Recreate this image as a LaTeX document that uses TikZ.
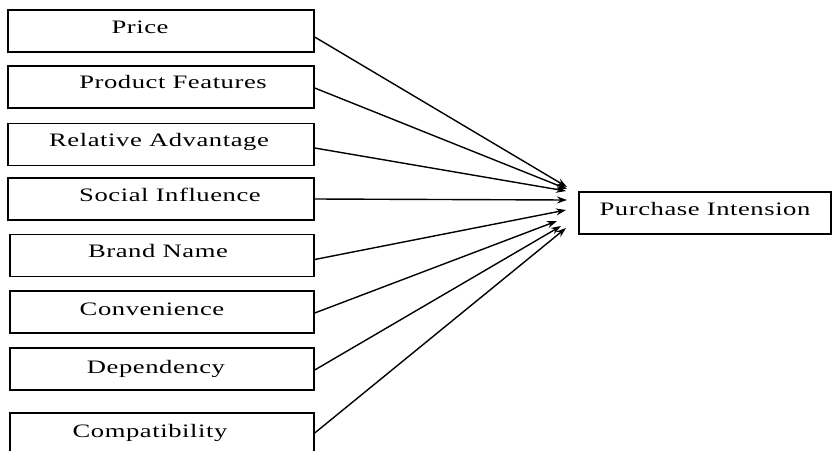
\documentclass[tikz,border=0pt]{standalone}
\usepackage{fontspec}
\setmainfont{Liberation Serif}[FakeStretch=1.4, LetterSpace=3]
\usetikzlibrary{arrows.meta}
\begin{document}
\begin{tikzpicture}[x=1pt,y=-1pt,
  box/.style={draw, line width=1.4pt, minimum height=42pt, inner sep=0pt},
  lbl/.style={anchor=base, font=\fontsize{19}{22}\selectfont, inner sep=0pt},
  arr/.style={line width=1.4pt, -{Stealth[length=10pt,width=7pt]}}]
\clip (0,0) rectangle (832,450);
\fill[white] (0,0) rectangle (832,450);
% source boxes
\node[box, minimum width=306pt] (b1) at (161,31) {};
\node[box, minimum width=306pt] (b2) at (161,87) {};
\node[box, minimum width=306pt] (b3) at (161,144.5) {};
\node[box, minimum width=306pt] (b4) at (161,199) {};
\node[box, minimum width=304pt] (b5) at (162,255.5) {};
\node[box, minimum width=304pt] (b6) at (162,312) {};
\node[box, minimum width=304pt] (b7) at (162,369) {};
\node[box, minimum width=304pt] (b8) at (162,434) {};
% target box
\node[box, minimum width=252pt] (pi) at (705,213) {};
% labels
\node[lbl] at (140,33) {Price};
\node[lbl] at (173,88) {Product Features};
\node[lbl] at (159,146) {Relative Advantage};
\node[lbl] at (170,201) {Social Influence};
\node[lbl] at (158,257) {Brand Name};
\node[lbl] at (152,315) {Convenience};
\node[lbl] at (156,373) {Dependency};
\node[lbl] at (150,437) {Compatibility};
\node[lbl] at (705,215) {Purchase Intension};
% arrow tips
\coordinate (t1) at (567,187);
\coordinate (t2) at (567,189);
\coordinate (t3) at (566,191);
\coordinate (t4) at (567,200);
\coordinate (t5) at (566,210);
\coordinate (t6) at (557,221);
\coordinate (t7) at (561,226);
\coordinate (t8) at (566,228);
% connectors
\draw[arr] ([yshift=-6pt]b1.east) -- (t1);
\draw[arr] ([yshift=-1pt]b2.east) -- (t2);
\draw[arr] ([yshift=-3.5pt]b3.east) -- (t3);
\draw[arr] (b4.east) -- (t4);
\draw[arr] ([yshift=-4pt]b5.east) -- (t5);
\draw[arr] ([yshift=-1pt]b6.east) -- (t6);
\draw[arr] ([yshift=-1pt]b7.east) -- (t7);
\draw[arr] ([yshift=1pt]b8.east) -- (t8);
\end{tikzpicture}
\end{document}
